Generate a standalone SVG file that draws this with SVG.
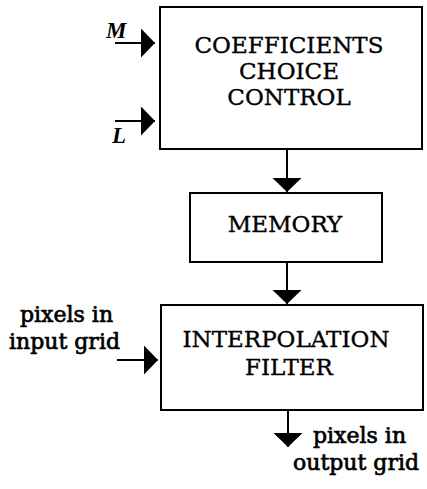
<svg xmlns="http://www.w3.org/2000/svg" width="427" height="489" viewBox="0 0 427 489">
<style>
.box{fill:#fff;stroke:#000;stroke-width:2}
.t{font-family:"DejaVu Serif","Liberation Serif",serif;font-size:23px;fill:#000;stroke:#000;stroke-width:0.35;text-anchor:middle}
.lbl{font-family:"DejaVu Serif","Liberation Serif",serif;font-size:22px;fill:#000;stroke:#000;stroke-width:0.7}
.var{font-family:"Liberation Serif",serif;font-size:23px;font-style:italic;font-weight:bold;fill:#000}
.c{stroke:#000;stroke-width:2;fill:none;marker-end:url(#ah)}
</style>
<defs>
<marker id="ah" markerUnits="userSpaceOnUse" markerWidth="15" markerHeight="30" refX="14" refY="14.5" orient="auto">
<path d="M0,0 L14,14.5 L0,29 z" fill="#000"/>
</marker>
</defs>
<rect width="427" height="489" fill="#fff"/>
<g id="coeff">
<rect class="box" x="160" y="7" width="262" height="142"/>
<text class="t" x="289" y="53">COEFFICIENTS</text>
<text class="t" x="289" y="79">CHOICE</text>
<text class="t" x="289" y="105">CONTROL</text>
</g>
<g id="memory">
<rect class="box" x="190" y="193" width="192" height="69"/>
<text class="t" x="285" y="232">MEMORY</text>
</g>
<g id="interp">
<rect class="box" x="161" y="305" width="262" height="105"/>
<text class="t" x="286" y="347">INTERPOLATION</text>
<text class="t" x="289" y="375">FILTER</text>
</g>
<g id="labels">
<text class="var" x="106" y="38">M</text>
<text class="var" x="112" y="143">L</text>
<text class="lbl" x="20" y="322">pixels in</text>
<text class="lbl" x="9" y="349">input grid</text>
<text class="lbl" x="313" y="443">pixels in</text>
<text class="lbl" x="293" y="470">output grid</text>
</g>
<g id="connectors">
<line class="c" x1="115" y1="43" x2="155" y2="43"/>
<line class="c" x1="115" y1="121" x2="155" y2="121"/>
<line class="c" x1="287" y1="149" x2="287" y2="192"/>
<line class="c" x1="287" y1="262" x2="287" y2="304"/>
<line class="c" x1="117" y1="360" x2="158" y2="360"/>
<line class="c" x1="288" y1="410" x2="288" y2="447"/>
</g>
</svg>
